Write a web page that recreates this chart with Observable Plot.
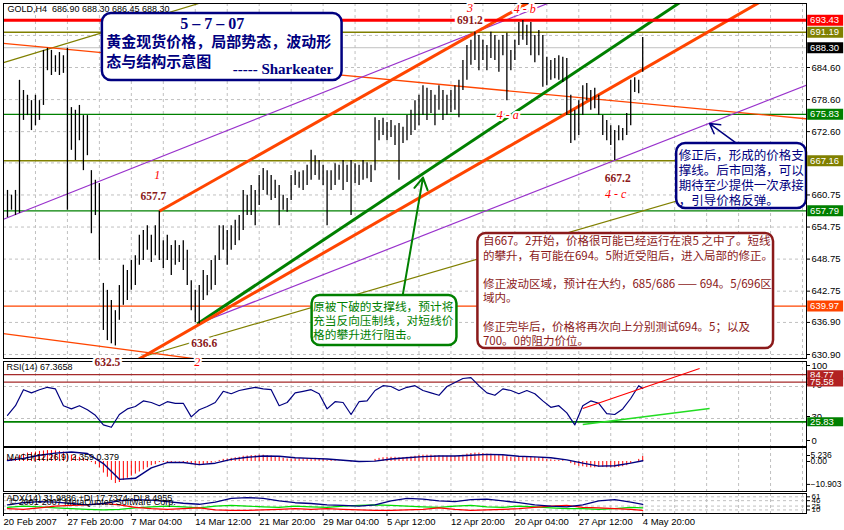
<!DOCTYPE html>
<html><head><meta charset="utf-8">
<script src="https://cdn.jsdelivr.net/npm/d3@7"></script>
<script src="https://cdn.jsdelivr.net/npm/@observablehq/plot@0.6"></script>
<style>
body{margin:0;background:#fff;}
#chart{position:relative;width:844px;height:530px;overflow:hidden;background:#fff;}
</style></head><body><div id="chart"></div>
<script>
// ---------------- DATA ----------------
const header = "GOLD,H4  686.90 688.30 686.45 688.30";
// H4 bar highs / lows, bar index 0..159
const hi = [661.6,660.7,661.6,682.2,680.3,679.4,678.4,679.4,678.4,687.8,
 688.2,687.8,686.8,687.4,686.8,688.2,677.1,676.6,677.5,675.6,
 675.6,665.3,663.5,662.9,644.2,642.9,641.0,639.1,643.8,647.6,
 646.6,648.5,649.4,653.2,654.1,655.0,653.2,655.0,657.7,652.2,
 653.2,651.3,652.2,651.3,652.2,650.4,644.7,642.9,643.8,646.6,
 645.7,648.5,649.4,655.0,655.0,654.1,655.0,656.0,656.9,661.6,
 660.7,662.5,661.6,664.4,665.7,665.3,664.4,663.5,662.5,660.7,
 660.1,664.4,665.3,665.0,665.3,666.3,669.1,668.1,667.2,666.3,
 665.3,665.3,666.6,666.3,667.2,666.3,667.2,666.6,666.3,667.2,
 666.8,666.3,675.2,674.7,675.1,674.3,674.7,673.7,674.1,673.4,
 675.6,676.6,678.4,679.4,681.2,680.7,680.3,679.4,681.2,680.3,
 679.4,680.3,681.2,682.2,685.9,688.7,689.7,691.2,690.6,689.7,
 688.7,691.2,690.6,689.7,690.6,691.0,687.8,689.7,693.0,693.4,
 692.5,693.0,690.6,691.5,690.6,686.5,685.9,686.3,686.8,686.5,
 686.3,679.4,676.6,678.4,681.2,681.6,680.3,680.7,679.4,675.6,
 674.7,673.7,672.8,673.7,673.2,676.0,682.2,682.7,682.2,690.2];
const lo = [656.5,657.9,656.9,657.3,674.7,675.6,672.8,673.7,674.7,677.5,
 684.0,683.1,683.7,683.1,683.5,657.9,669.1,667.2,670.9,665.3,
 668.1,653.5,656.9,648.5,635.4,633.5,632.9,632.5,637.3,640.1,
 641.0,642.9,643.8,647.6,648.5,650.4,648.1,649.4,648.5,647.0,
 648.5,645.7,647.6,648.1,646.6,643.8,639.1,636.9,636.6,641.0,
 641.9,642.9,643.8,648.5,650.4,647.6,650.4,651.3,652.2,654.1,
 656.9,656.9,655.0,658.8,661.6,660.7,659.7,660.1,655.0,657.9,
 657.5,659.7,662.5,662.0,661.6,662.5,663.5,664.4,663.5,662.5,
 655.0,661.6,662.5,663.5,661.6,663.1,656.9,662.9,662.5,663.5,
 663.8,663.1,665.3,670.9,671.9,670.9,671.5,670.0,663.5,670.4,
 670.9,671.9,672.8,673.7,675.6,674.7,676.0,673.7,676.6,674.7,
 675.6,676.2,676.6,675.2,680.3,682.2,685.0,685.9,684.0,685.9,
 684.0,686.3,685.9,683.7,686.8,678.4,684.0,685.9,688.7,689.7,
 688.7,686.8,685.5,686.8,680.9,681.2,682.2,682.5,682.2,681.8,
 675.6,670.4,670.9,671.9,675.6,678.4,676.6,676.9,675.6,671.9,
 670.9,670.0,667.2,670.9,670.9,671.9,673.7,679.9,679.7,683.7];

const priceTicks = [690.60,684.60,678.60,672.60,666.75,660.75,654.75,648.75,642.75,636.90,630.90];
const priceLabels = [684.60,678.60,672.60,660.75,654.75,648.75,642.75,636.90,630.90];
const levels = [693.43, 691.19, 688.30, 675.83, 667.16, 657.79, 639.97];

// trend lines [x1(bar), y1(price), x2(bar), y2(price)]
const orangeChannel = [[38,657.7,140,700.8],[30,628.8,195,699.7]];
const greenSupport = [[47.5,636.6,172,698.6]];
const purpleChannel = [[-1,656.2,140,698.0],[47.5,636.6,200,681.3]];
const orangeFan = [[-1,689.1,200,675.0],[-1,634.8,50,629.8]];
const oliveChannel = [[-1,685.5,55,698.2],[33,630.3,200,666.7]];
const arrowGreen = [[98.75,641.2,104,664.0]];
const arrowNavy = [[182.5,670.4,175.75,674.1]];

// annotation boxes [x1, x2, y1, y2]
const boxTitle = [23.75,83.75,682.17,694.70];
const boxGreen = [76.25,112.5,632.59,641.94];
const boxRed = [117.75,191.75,632.0,653.54];
const boxBlue = [167.5,200,658.22,670.38];

const titleDate = "5 – 7 – 07";
const titleLines = ["黄金现货价格，局部势态，波动形","态与结构示意图"];
const author = "----- Sharkeater";
const greenNote = ["原被下破的支撑线，预计将","充当反向压制线，对短线价","格的攀升进行阻击。"];
const redNote = ["自667。2开始，价格很可能已经运行在浪5 之中了。短线","的攀升，有可能在694。5附近受阻后，进入局部的修正。","","修正波动区域，预计在大约，685/686 —— 694。5/696区","域内。","","修正完毕后，价格将再次向上分别测试694。5；以及","700。0的阻力价位。"];
const blueNote = ["修正后，形成的价格支","撑线。后市回落，可以","期待至少提供一次承接","，引导价格反弹。"];

// wave labels: [bar, price, text]
const waveMarks = [[115.75,695.7,"3"],[129.5,695.45,"4 - b"],[125.25,675.62,"4 - a"],[37.5,664.4,"1"],[47.5,629.4,"2"],[152.25,660.84,"4 - c"]];
const priceMarks = [[115.75,693.39,"691.2"],[36.5,660.5,"657.7"],[49.25,632.96,"636.6"],[25,629.4,"632.5"],[152.75,663.83,"667.2"]];

// RSI
const rsiLabel = "RSI(14) 67.3658";
const rsi = [34,46,66,62,66,69,67,46,42,46,41,34,22,19,35,42,45,52,50,46,
 51,49,49,32,41,45,50,64,61,65,67,69,67,66,46,50,62,64,66,61,
 42,51,50,35,51,52,65,71,70,65,69,71,65,62,59,70,75,80,81,71,
 62,59,67,65,61,65,61,52,44,46,37,22,46,52,49,36,35,42,55,71,67.4];
const rsiTicks = [70, 30, 0];
const rsiLevels = [84.77, 75.58, 25.83];
const rsiTrendRed = [[144,42.5,173.25,92.5]];
const rsiTrendGreen = [[144,22.5,175.75,42.5]];

// MACD
const macdLabel = "MACD(12,26,9) 2.359 0.379";
const macd = [1.0,1.5,2.0,3.0, 3.5,4.0,4.2,4.5,4.8,5.0,5.2,5.2,5.0, 4.8,4.5,3.5, 3.0,2.5,2.0,1.5,1.0,
 -0.5,-1.5,-3.0, -5.5,-7.5,-9.0,-10.5, -10.0,-9.0,-8.0,-7.0,-6.0,-5.0, -4.0,-3.0,-2.0,-1.5,-0.5,
 -0.5,-0.5,-0.5,-0.3,-0.3,-0.5,-0.8, -1.5,-2.0,-2.0,-1.5,-1.2,-0.8,-0.3,
 0.5,1.0,1.2,1.5,1.8,2.0,2.5,2.6,2.8,2.8, 3.0,3.0,2.8,2.6,2.3,2.0,1.5,1.2,
 1.2,1.3,1.3,1.2,1.2,1.4,1.5,1.4,1.2, 0.6,0.5,0.4,0.3,0.2,0.0,-0.3,-0.3,-0.2,-0.1,0.0,0.0,
 1.0,1.5,1.8,2.0,2.0,2.0,1.8,1.8,2.0,2.2,2.5,2.8, 3.0,3.0,3.0,2.8,2.8,2.6,2.5,2.5,2.5,2.5,
 3.0,3.5,3.8,4.0,4.0,3.8,3.5,3.5,3.3,3.0,2.8, 2.3,2.0,2.0,2.2,2.3,2.3,2.2,2.0,1.8,1.5,
 1.0,0.8,0.6,0.5,0.4,0.0, -1.0,-1.8,-2.3,-2.5,-2.8,-3.0,-3.0,-2.8, -2.8,-3.0,-3.0,-3.0,-2.8,-2.5,-2.0,
 -1.0,0.0,1.0,2.359];
const macdSignal = [0.5,1.5,3.0,4.0,4.5,3.8,-1.0,-8.5,-8.0,-3.0,-0.5,-0.5,-1.5,-0.8,1.0,2.0,2.6,2.5,1.8,1.5,
 1.2,0.6,0.0,0.2,1.2,1.8,2.3,2.6,2.6,3.0,3.4,3.2,2.5,2.2,1.8,0.8,-0.8,-2.2,-2.0,-0.8,0.379];
const macdTicks = [0, -10.903];
const macdTop = [5.236];

// ADX
const adxLabel = "ADX(14) 31.9886 +DI 17.7374 -DI 8.4955";
const copyright = "© 2001-2007 MetaQuotes Software Corp.";
const adx = [30,38,42,40,35,30,35,45,50,48,42,36,32,40,55,58,55,45,38,35,30,28,25,30,45,55,52,45,42,50,52,45,38,30,25,22,30,45,50,40,32];
const plusDI = [20,25,22,18,15,12,10,12,18,22,25,22,18,25,28,25,22,20,25,22,20,25,28,30,28,25,22,20,25,28,22,20,25,22,18,15,15,12,15,20,17.7];
const minusDI = [15,12,18,25,28,30,35,30,20,15,12,15,18,10,8,8,10,12,15,12,15,12,10,8,8,10,12,18,12,8,10,12,15,20,25,28,20,18,15,12,8.5];
const adxTicks = [61, 46, 25, 10];

// time axis
const timeLabels = ["20 Feb 2007","27 Feb 20:00","7 Mar 04:00","14 Mar 12:00","21 Mar 20:00","29 Mar 04:00","5 Apr 12:00","12 Apr 20:00","20 Apr 04:00","27 Apr 12:00","4 May 20:00"];
const timeIdx = [-1,15,31,47,63,79,95,111,127,143,159];

// ---------------- DRAW ----------------
const W = 844, X0 = -1, X1 = 200;
const xs = {domain: [X0, X1], range: [3, 806], axis: null};
const SANS = "Liberation Sans", SERIF = "Liberation Serif", CJK = "Noto Sans CJK SC";
const grid = {stroke: "#c0c0c0", strokeDasharray: "3,3", strokeWidth: 1};
const gridIdx = d3.range(7, X1, 8);
const f2 = d3.format(".2f");
const L = {x1: d => d[0], y1: d => d[1], x2: d => d[2], y2: d => d[3]};
const B = {x1: d => d[0], x2: d => d[1], y1: d => d[2], y2: d => d[3]};
const ax = {anchor: "right", tickSize: 3, tickPadding: 2, label: null, fontFamily: SANS};

function tags(vals, cols, h, fs) {
  return vals.flatMap((v, k) => [
    Plot.ruleY([v], {x1: () => X1 + 0.3, x2: () => X1 + 9.3, stroke: cols[k], strokeWidth: h}),
    Plot.text([v], {x: () => X1 + 0.9, y: d => d, text: f2, textAnchor: "start", fill: "white", fontSize: fs, fontFamily: SANS})
  ]);
}

const bars = hi.map((h, i) => ({i, hi: h, lo: lo[i]}));

const main = Plot.plot({
  width: W, height: 360, marginTop: 3, marginBottom: 2, marginLeft: 3, marginRight: 38,
  x: xs, y: {domain: [630.9, 684.6], range: [354, 67], axis: null},
  style: {fontFamily: SANS, overflow: "visible", background: "transparent"},
  marks: [
    Plot.ruleX(gridIdx, grid),
    Plot.ruleY(priceTicks, grid),
    Plot.ruleY([levels[2]], {stroke: "#c0c0c0"}),
    Plot.ruleY([levels[1]], {stroke: "#808000", strokeWidth: 1.5}),
    Plot.ruleY([levels[4]], {stroke: "#808000", strokeWidth: 1.5}),
    Plot.ruleY([levels[3]], {stroke: "#008000", strokeWidth: 1.2}),
    Plot.ruleY([levels[5]], {stroke: "#008000", strokeWidth: 1.2}),
    Plot.ruleY([levels[6]], {stroke: "#ff4500", strokeWidth: 1.2}),
    Plot.link(oliveChannel, {...L, stroke: "#808000", strokeWidth: 1.2, clip: true}),
    Plot.link(orangeFan, {...L, stroke: "#ff4500", strokeWidth: 1.3, clip: true}),
    Plot.link(purpleChannel, {...L, stroke: "#9932cc", strokeWidth: 1.2, clip: true}),
    Plot.link(greenSupport, {...L, stroke: "#008000", strokeWidth: 3, clip: true}),
    Plot.link(orangeChannel, {...L, stroke: "#ff4500", strokeWidth: 3, clip: true}),
    Plot.ruleY([levels[0]], {stroke: "#ff0000", strokeWidth: 3}),
    Plot.ruleX(bars, {x: "i", y1: "lo", y2: "hi", stroke: "#000", strokeWidth: 1.3}),
    Plot.arrow(arrowGreen, {...L, stroke: "#008000", strokeWidth: 2, headLength: 10, clip: true}),
    Plot.arrow(arrowNavy, {...L, stroke: "#000080", strokeWidth: 1.5, headLength: 12, clip: true}),
    // boxes
    Plot.rect([boxTitle], {...B, fill: "white", stroke: "#000080", strokeWidth: 2.5, rx: 9}),
    Plot.rect([boxGreen], {...B, fill: "white", stroke: "#008000", strokeWidth: 2.5, rx: 8}),
    Plot.rect([boxRed], {...B, fill: "white", stroke: "#8b1a1a", strokeWidth: 2.5, rx: 8}),
    Plot.rect([boxBlue], {...B, fill: "white", stroke: "#000080", strokeWidth: 2.5, rx: 9}),
    Plot.text([titleDate], {x: () => 51.25, y: () => 692.8, text: d => d, fill: "#000080", fontFamily: SERIF, fontWeight: "bold", fontSize: 16}),
    Plot.text(titleLines, {x: () => 24.75, y: (d, i) => [689.28, 685.54][i], text: d => d, textAnchor: "start", fill: "#000080", fontFamily: CJK, fontWeight: "bold", fontSize: 15}),
    Plot.text([author], {x: () => 81.5, y: () => 684.2, text: d => d, textAnchor: "end", fill: "#000080", fontFamily: SERIF, fontWeight: "bold", fontSize: 15}),
    Plot.text([greenNote.join("\n")], {x: () => 76.5, y: () => 641.0, text: d => d, textAnchor: "start", lineAnchor: "top", lineHeight: 1.22, fill: "#008000", fontFamily: CJK, fontSize: 11.7}),
    Plot.text([redNote.join("\n")], {x: () => 119, y: () => 653.2, text: d => d, textAnchor: "start", lineAnchor: "top", lineHeight: 1.24, fill: "#8b1a1a", fontFamily: CJK, fontSize: 11.5}),
    Plot.text([blueNote.join("\n")], {x: () => 168, y: () => 669.3, text: d => d, textAnchor: "start", lineAnchor: "top", lineHeight: 1.2, fill: "#000080", fontFamily: CJK, fontSize: 12.5}),
    Plot.frame({stroke: "#000"}),
    Plot.axisY(priceLabels, {...ax, tickFormat: f2, fontSize: 9.5}),
    ...tags(levels, ["#ff0000", "#808000", "#000000", "#008000", "#808000", "#008000", "#ff4500"], 11, 9.5),
    Plot.text([header], {frameAnchor: "top-left", dx: 4, dy: 2, text: d => d, fontSize: 9, fill: "#000"}),
    Plot.text(priceMarks, {x: d => d[0], y: d => d[1], text: d => d[2], fill: "#8b1a1a", fontFamily: SERIF, fontWeight: "bold", fontSize: 11.5, stroke: "white", strokeWidth: 5}),
    Plot.text(waveMarks, {x: d => d[0], y: d => d[1], text: d => d[2], fill: "#ff0000", fontFamily: SERIF, fontStyle: "italic", fontSize: 12, stroke: "white", strokeWidth: 4})
  ]
});

const rsiPts = rsi.map((v, k) => ({i: k < 80 ? k * 2 : 159, v}));
const rsiPlot = Plot.plot({
  width: W, height: 87, marginTop: 1, marginBottom: 1, marginLeft: 3, marginRight: 38,
  x: xs, y: {domain: [0, 100], range: [82, 2], axis: null},
  style: {fontFamily: SANS, overflow: "visible", background: "transparent"},
  marks: [
    Plot.ruleX(gridIdx, grid),
    Plot.ruleY([70, 30], grid),
    Plot.ruleY([rsiLevels[0], rsiLevels[1]], {stroke: "#a52a2a", strokeWidth: 1.2}),
    Plot.ruleY([rsiLevels[2]], {stroke: "#008000", strokeWidth: 1.6}),
    Plot.line(rsiPts, {x: "i", y: "v", stroke: "#000080", strokeWidth: 1.2}),
    Plot.link(rsiTrendRed, {...L, stroke: "#ff0000", strokeWidth: 1.2}),
    Plot.link(rsiTrendGreen, {...L, stroke: "#22dd22", strokeWidth: 1.5}),
    Plot.text([rsiLabel], {frameAnchor: "top-left", dx: 3, dy: 2, text: d => d, fontSize: 9, fill: "#000"}),
    Plot.frame({stroke: "#000"}),
    Plot.axisY([100], {...ax, fontSize: 9.5, dy: 3}),
    Plot.axisY(rsiTicks, {...ax, fontSize: 9.5, dy: -2}),
    ...tags(rsiLevels, ["#b22222", "#b22222", "#008000"], 9, 9.5)
  ]
});

const macdPts = macd.map((v, i) => ({i, v}));
const sigPts = macdSignal.map((v, k) => ({i: k < 40 ? k * 4 : 159, v}));
const macdPlot = Plot.plot({
  width: W, height: 46, marginTop: 1, marginBottom: 1, marginLeft: 3, marginRight: 38,
  x: xs, y: {domain: [0, -10], range: [15, 36], axis: null},
  style: {fontFamily: SANS, overflow: "visible", background: "transparent"},
  marks: [
    Plot.ruleX(gridIdx, grid),
    Plot.ruleX(macdPts, {x: "i", y1: () => 0, y2: "v", stroke: "#ff0000", strokeWidth: 1}),
    Plot.line(sigPts, {x: "i", y: "v", stroke: "#000080", strokeWidth: 1.4}),
    Plot.text([macdLabel], {frameAnchor: "top-left", dx: 3, dy: 6, text: d => d, fontSize: 9, fill: "#000"}),
    Plot.frame({stroke: "#000"}),
    Plot.axisY(macdTop, {...ax, tickPadding: 1, fontSize: 8.5, dy: 5, tickFormat: d3.format(".3f")}),
    Plot.axisY(macdTicks, {...ax, tickPadding: 1, fontSize: 8.5, tickFormat: d => d === 0 ? "0.00" : d3.format(".3f")(d)})
  ]
});

const adxPts = (arr) => arr.map((v, k) => ({i: k < 40 ? k * 4 : 159, v}));
const timeMap = new Map(timeIdx.map((d, k) => [d, timeLabels[k]]));
const adxPlot = Plot.plot({
  width: W, height: 38, marginTop: 1, marginBottom: 17, marginLeft: 3, marginRight: 38,
  x: xs, y: {domain: [0, 70], range: [20, 2], axis: null},
  style: {fontFamily: SANS, overflow: "visible", background: "transparent"},
  marks: [
    Plot.ruleX(gridIdx, grid),
    Plot.ruleY(adxTicks, grid),
    Plot.line(adxPts(plusDI), {x: "i", y: "v", stroke: "#00dd00", strokeWidth: 1.2}),
    Plot.line(adxPts(minusDI), {x: "i", y: "v", stroke: "#ff0000", strokeWidth: 1.2}),
    Plot.line(adxPts(adx), {x: "i", y: "v", stroke: "#000080", strokeWidth: 1.3}),
    Plot.text([adxLabel], {frameAnchor: "top-left", dx: 3, dy: 1, text: d => d, fontSize: 9, fill: "#000"}),
    Plot.text([copyright], {frameAnchor: "top-left", dx: 6, dy: 5, text: d => d, fontSize: 9, fill: "#000"}),
    Plot.frame({stroke: "#000"}),
    Plot.axisY(adxTicks, {...ax, fontSize: 8}),
    Plot.axisX(timeIdx, {anchor: "bottom", label: null, tickSize: 3, tickPadding: 2, textAnchor: "start", tickFormat: d => timeMap.get(d), fontSize: 9.5, fontFamily: SANS})
  ]
});

const chart = document.getElementById("chart");
[[rsiPlot, 360, 1], [macdPlot, 446, 1], [adxPlot, 492, 1], [main, 0, 3]].forEach(([svg, top, z]) => {
  svg.style.position = "absolute";
  svg.style.left = "0px";
  svg.style.top = top + "px";
  svg.style.zIndex = z;
  chart.appendChild(svg);
});
</script></body></html>
